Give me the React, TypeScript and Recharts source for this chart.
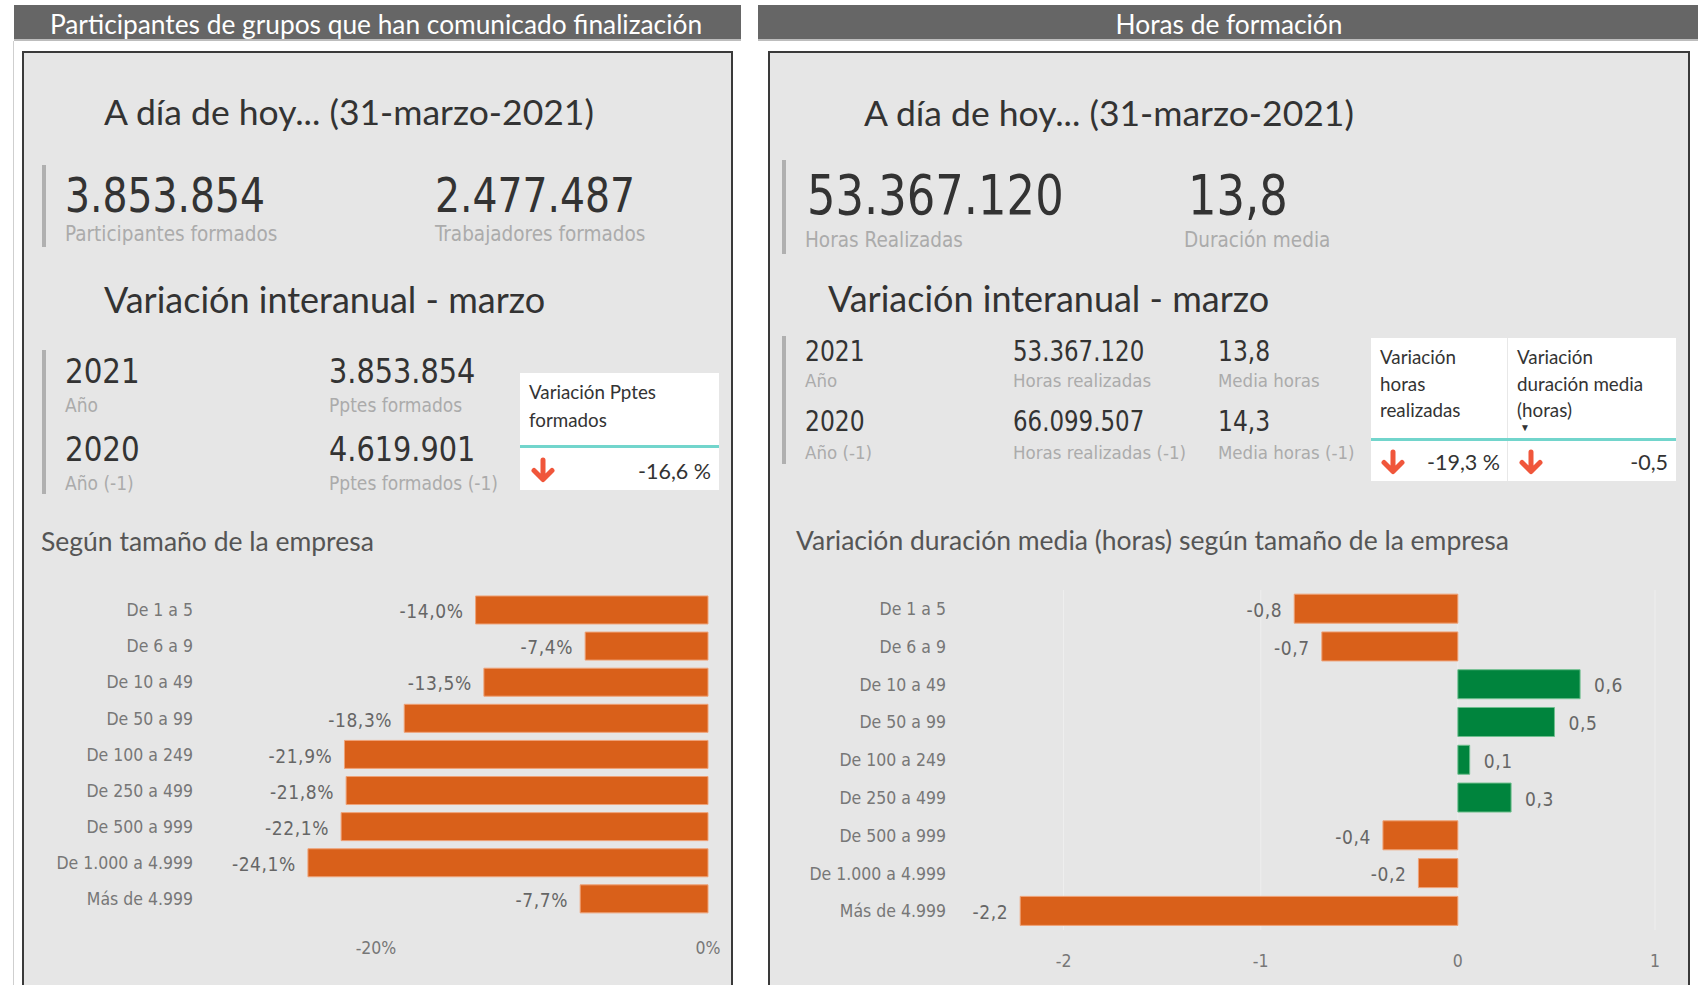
import React from 'react';
import { BarChart, Bar, XAxis, YAxis, CartesianGrid, LabelList, Cell } from 'recharts';

const sizeCategories = ['De 1 a 5', 'De 6 a 9', 'De 10 a 49', 'De 50 a 99', 'De 100 a 249', 'De 250 a 499', 'De 500 a 999', 'De 1.000 a 4.999', 'Más de 4.999'];
const participantVariation = [-14.0, -7.4, -13.5, -18.3, -21.9, -21.8, -22.1, -24.1, -7.7];
const durationVariation = [-0.83, -0.69, 0.62, 0.49, 0.06, 0.27, -0.38, -0.2, -2.22];
const participantTicks = [-20, 0];
const durationTicks = [-2, -1, 0, 1];

const DIN = "'Liberation Sans Narrow', 'DejaVu Sans Condensed', 'Roboto', sans-serif";
const SEGOE = "'Lato', 'Open Sans', sans-serif";

const ORANGE = '#D9601A';
const GREEN = '#00843D';

type TProps = { x: number; y: number; size: number; color?: string; font?: string; anchor?: string; weight?: number; spacing?: number; sx?: number; children: React.ReactNode };
const T = ({ x, y, size, color = '#333', font = SEGOE, anchor = 'start', weight = 400, spacing = 0, sx = 1, children }: TProps) => (
  <div
    style={{
      position: 'absolute', left: x, top: y, fontSize: size, color, fontFamily: font, fontWeight: weight, lineHeight: 1,
      whiteSpace: 'nowrap', letterSpacing: spacing,
      transformOrigin: anchor === 'end' ? 'right center' : anchor === 'middle' ? 'center center' : 'left center',
      transform: `translate(${anchor === 'end' ? '-100%' : anchor === 'middle' ? '-50%' : '0'}, -50%) scaleX(${sx})`,
    }}
  >
    {children}
  </div>
);

const DownArrow = ({ x, y }: { x: number; y: number }) => (
  <svg style={{ position: 'absolute', left: x - 13, top: y - 13 }} width={26} height={26} viewBox="0 0 26 26">
    <path d="M13 3 V22 M4 13.5 L13 22.5 L22 13.5" stroke="#F0563B" strokeWidth={5} fill="none" strokeLinecap="round" strokeLinejoin="round" />
  </svg>
);

const Box = ({ x, y, w, h, style }: { x: number; y: number; w: number; h: number; style?: React.CSSProperties }) => (
  <div style={{ position: 'absolute', left: x, top: y, width: w, height: h, boxSizing: 'border-box', ...style }} />
);

const makeLabel = (fmt: (v: number) => string) => (props: any) => {
  const { x, y, width, height, value } = props;
  const left = Math.min(x, x + width);
  const right = Math.max(x, x + width);
  const neg = value < 0;
  return (
    <text x={neg ? left - 12 : right + 14} y={y + height / 2 + 1} dy="0.38em" textAnchor={neg ? 'end' : 'start'} fill="#666" fontSize={19} letterSpacing={0.6} fontFamily={DIN}>
      {fmt(value)}
    </text>
  );
};

const pctFmt = (v: number) => `${v.toFixed(1).replace('.', ',')}%`;
const decFmt = (v: number) => v.toFixed(1).replace('.', ',');

export default function App() {
  const leftData = sizeCategories.map((c, i) => ({ cat: c, value: participantVariation[i] }));
  const rightData = sizeCategories.map((c, i) => ({ cat: c, value: durationVariation[i] }));
  const tickStyle = { fill: '#777', fontSize: 17.5, fontFamily: DIN };

  return (
    <div style={{ position: 'absolute', left: 0, top: 0, width: 1698, height: 985, background: '#fff', overflow: 'hidden' }}>
      {/* headers */}
      <Box x={14} y={5} w={727} h={36} style={{ background: '#666666', borderBottom: '2px solid #bdbdbd' }} />
      <T x={376} y={24} size={26.3} color="#fff" anchor="middle">Participantes de grupos que han comunicado finalización</T>
      <Box x={758} y={5} w={940} h={36} style={{ background: '#666666', borderBottom: '2px solid #bdbdbd' }} />
      <T x={1229} y={24} size={26.3} color="#fff" anchor="middle">Horas de formación</T>
      <Box x={13} y={41} w={1} h={944} style={{ background: '#cfcfcf' }} />

      {/* panels */}
      <Box x={22} y={51} w={711} h={950} style={{ background: '#E6E6E6', border: '2px solid #3a3a3a' }} />
      <Box x={768} y={51} w={922} h={950} style={{ background: '#E6E6E6', border: '2px solid #3a3a3a' }} />

      {/* LEFT PANEL */}
      <T x={104} y={112} size={35.5} color="#333">A día de hoy... (31-marzo-2021)</T>
      <Box x={42} y={165} w={4} h={82} style={{ background: '#b0b0b0' }} />
      <T x={65} y={195} size={48} font={DIN} color="#333" sx={0.91}>3.853.854</T>
      <T x={65} y={234} size={20.5} font={DIN} color="#ababab">Participantes formados</T>
      <T x={435} y={195} size={48} font={DIN} color="#333" sx={0.91}>2.477.487</T>
      <T x={435} y={234} size={20.5} font={DIN} color="#ababab">Trabajadores formados</T>

      <T x={104} y={299} size={36} color="#333">Variación interanual - marzo</T>
      <Box x={42} y={350} w={4} h={144} style={{ background: '#b0b0b0' }} />
      <T x={65} y={371} size={34} font={DIN} color="#333" sx={0.96}>2021</T>
      <T x={65} y={405} size={19} font={DIN} color="#ababab">Año</T>
      <T x={65} y={449} size={34} font={DIN} color="#333" sx={0.96}>2020</T>
      <T x={65} y={483} size={19} font={DIN} color="#ababab">Año (-1)</T>
      <T x={329} y={371} size={34} font={DIN} color="#333" sx={0.94}>3.853.854</T>
      <T x={329} y={405} size={19} font={DIN} color="#ababab">Pptes formados</T>
      <T x={329} y={449} size={34} font={DIN} color="#333" sx={0.94}>4.619.901</T>
      <T x={329} y={483} size={19} font={DIN} color="#ababab">Pptes formados (-1)</T>

      <Box x={520} y={373} w={199} h={117} style={{ background: '#fff' }} />
      <Box x={520} y={445} w={199} h={3} style={{ background: '#72D5CC' }} />
      <T x={529} y={392} size={18.8} color="#333">Variación Pptes</T>
      <T x={529} y={420} size={18.8} color="#333">formados</T>
      <DownArrow x={543} y={470} />
      <T x={711} y={472} size={21.5} color="#333" anchor="end">-16,6 %</T>

      <T x={41} y={541} size={26.5} color="#555">Según tamaño de la empresa</T>

      <div style={{ position: 'absolute', left: 30, top: 580 }}>
        <BarChart width={700} height={384} data={leftData} layout="vertical" margin={{ top: 12, right: 22, bottom: 0, left: 0 }} barCategoryGap="11%">
          <XAxis type="number" domain={[-30, 0]} ticks={participantTicks} interval={0} tickFormatter={(v: number) => `${v}%`} axisLine={false} tickLine={false} tickSize={0} tickMargin={25} height={47} tick={tickStyle} />
          <YAxis type="category" dataKey="cat" width={180} axisLine={false} tickLine={false} tickSize={0} tickMargin={17} tick={tickStyle} interval={0} />
          <Bar dataKey="value" fill={ORANGE} stroke="#EFA277" strokeWidth={1} isAnimationActive={false}>
            <LabelList dataKey="value" content={makeLabel(pctFmt)} />
          </Bar>
        </BarChart>
      </div>

      {/* RIGHT PANEL */}
      <T x={864} y={113} size={35.5} color="#333">A día de hoy... (31-marzo-2021)</T>
      <Box x={782} y={160} w={4} h={94} style={{ background: '#b0b0b0' }} />
      <T x={807} y={195} size={56} font={DIN} color="#333" sx={0.89}>53.367.120</T>
      <T x={805} y={240} size={20.5} font={DIN} color="#ababab">Horas Realizadas</T>
      <T x={1188} y={195} size={56} font={DIN} color="#333" sx={0.89}>13,8</T>
      <T x={1184} y={240} size={20.5} font={DIN} color="#ababab">Duración media</T>

      <T x={828} y={298} size={36} color="#333">Variación interanual - marzo</T>
      <Box x={782} y={336} w={4} h={128} style={{ background: '#b0b0b0' }} />
      <T x={805} y={352} size={28} font={DIN} color="#333" sx={0.93}>2021</T>
      <T x={805} y={381} size={18.5} font={DIN} color="#ababab">Año</T>
      <T x={805} y={422} size={28} font={DIN} color="#333" sx={0.93}>2020</T>
      <T x={805} y={453} size={18.5} font={DIN} color="#ababab">Año (-1)</T>
      <T x={1013} y={352} size={28} font={DIN} color="#333" sx={0.91}>53.367.120</T>
      <T x={1013} y={381} size={18.5} font={DIN} color="#ababab">Horas realizadas</T>
      <T x={1013} y={422} size={28} font={DIN} color="#333" sx={0.91}>66.099.507</T>
      <T x={1013} y={453} size={18.5} font={DIN} color="#ababab">Horas realizadas (-1)</T>
      <T x={1218} y={352} size={28} font={DIN} color="#333" sx={0.93}>13,8</T>
      <T x={1218} y={381} size={18.5} font={DIN} color="#ababab">Media horas</T>
      <T x={1218} y={422} size={28} font={DIN} color="#333" sx={0.93}>14,3</T>
      <T x={1218} y={453} size={18.5} font={DIN} color="#ababab">Media horas (-1)</T>

      <Box x={1371} y={338} w={305} h={143} style={{ background: '#fff' }} />
      <Box x={1507} y={338} w={1} h={143} style={{ background: '#e8e8e8' }} />
      <Box x={1371} y={438} w={305} h={3} style={{ background: '#72D5CC' }} />
      <T x={1380} y={357} size={18.8} color="#333">Variación</T>
      <T x={1380} y={384} size={18.8} color="#333">horas</T>
      <T x={1380} y={410} size={18.8} color="#333">realizadas</T>
      <T x={1517} y={357} size={18.8} color="#333">Variación</T>
      <T x={1517} y={384} size={18.8} color="#333">duración media</T>
      <T x={1517} y={410} size={18.8} color="#333">(horas)</T>
      <T x={1520} y={427} size={10} color="#333">▼</T>
      <DownArrow x={1393} y={462} />
      <T x={1500} y={463} size={21.5} color="#333" anchor="end">-19,3 %</T>
      <DownArrow x={1531} y={462} />
      <T x={1668} y={463} size={21.5} color="#333" anchor="end">-0,5</T>

      <T x={796} y={540} size={26.5} color="#555">Variación duración media (horas) según tamaño de la empresa</T>

      <div style={{ position: 'absolute', left: 776, top: 578 }}>
        <BarChart width={900} height={399} data={rightData} layout="vertical" margin={{ top: 12, right: 21, bottom: 0, left: 0 }} barCategoryGap="11%">
          <CartesianGrid horizontal={false} vertical={true} syncWithTicks={true} stroke="#eeeeee" />
          <XAxis type="number" domain={[-2.5, 1]} ticks={durationTicks} interval={0} axisLine={false} tickLine={false} tickSize={0} tickMargin={25} height={47} tick={tickStyle} />
          <YAxis type="category" dataKey="cat" width={189} axisLine={false} tickLine={false} tickSize={0} tickMargin={19} tick={tickStyle} interval={0} />
          <Bar dataKey="value" isAnimationActive={false} strokeWidth={1}>
            {rightData.map((d, i) => (
              <Cell key={i} fill={d.value >= 0 ? GREEN : ORANGE} stroke={d.value >= 0 ? '#6FBF8E' : '#EFA277'} />
            ))}
            <LabelList dataKey="value" content={makeLabel(decFmt)} />
          </Bar>
        </BarChart>
      </div>
    </div>
  );
}
